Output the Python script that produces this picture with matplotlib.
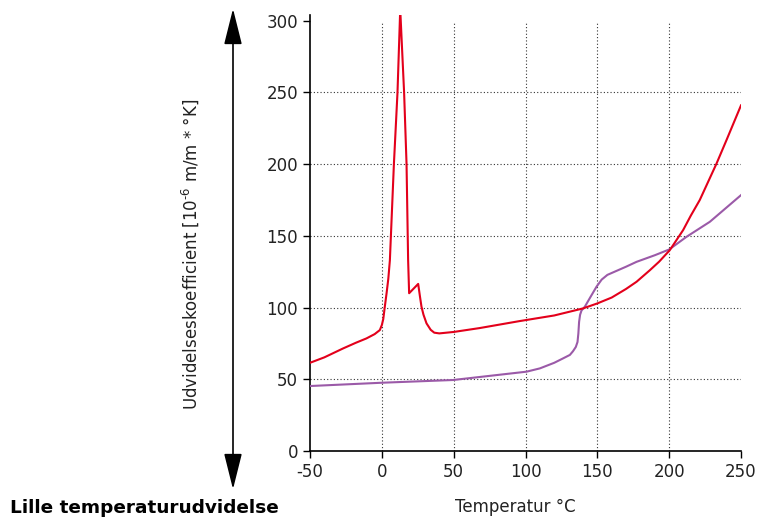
import matplotlib
matplotlib.use("Agg")
import matplotlib.pyplot as plt

# red curve (temperature, coefficient)
red_x = [-50, -40, -27, -18, -10.7, -5, -1.4, 0, 1, 2, 3.3, 4.5, 5.6, 8.4, 10.9, 12.8,
         15.5, 17.2, 18.3, 19, 25.3, 26.5, 27.6, 29, 31.1, 34, 36.5, 40, 50, 68, 96,
         120, 140, 150, 160, 170, 177.3, 186.5, 193, 200.4, 209.7, 215, 221.3, 233,
         240, 250]
red_y = [61.5, 65.3, 71.5, 75.5, 78.5, 81.5, 84.3, 87.8, 92, 100, 110, 120, 133, 200,
         250, 308, 250, 200, 133, 110, 116.5, 108, 100.6, 95, 89, 84.5, 82.5, 82, 83,
         85.7, 90.6, 94.5, 99.4, 102.9, 107, 113, 118, 126, 132, 140, 154, 164, 175,
         200.5, 217, 241]

# purple curve
purple_x = [-50, 0, 49.6, 100.7, 110, 120, 126, 130.9, 133, 135, 136.2, 136.8, 137.3,
            138, 139, 141.3, 145, 149.4, 153, 157, 162, 170, 177.3, 190, 200, 212,
            228.3, 250]
purple_y = [45.3, 47.6, 49.5, 55.3, 57.6, 61.5, 64.5, 67, 69.5, 72.5, 76, 82, 90, 95,
            98, 100.6, 107, 114.5, 119.5, 122.8, 125, 128.5, 131.9, 136.5, 140.5, 149.3,
            159.8, 178.4]

xticks = [-50, 0, 50, 100, 150, 200, 250]
yticks = [0, 50, 100, 150, 200, 250, 300]
xgrid = [0, 50, 100, 150, 200]
ygrid = [50, 100, 150, 200, 250]

plt.rcParams['font.family'] = ['DejaVu Sans']
plt.rcParams['axes.unicode_minus'] = False

W, H = 758, 518
fig = plt.figure(figsize=(W / 100, H / 100), dpi=100)
ax = fig.add_axes([310 / W, 1 - 451 / H, (741 - 310) / W, (451 - 15) / H])

ax.set_xlim(-50, 250)
ax.set_ylim(0, 304)

# dotted grid
ax.vlines(xgrid, 0, 300, colors="#333333", linestyles=(0, (1, 2)), linewidth=0.8, zorder=1)
ax.hlines(ygrid, -50, 250, colors="#333333", linestyles=(0, (1, 2)), linewidth=0.8, zorder=1)

ax.plot(purple_x, purple_y, color="#9b5aa8", linewidth=1.5, zorder=3)
ax.plot(red_x, red_y, color="#e3001b", linewidth=1.5, zorder=4)

ax.set_xticks(xticks)
ax.set_yticks(yticks)
ax.tick_params(direction="out", length=5, width=1, labelsize=12, colors="black",
               labelcolor="#222222")
for s in ["top", "right"]:
    ax.spines[s].set_visible(False)
for s in ["left", "bottom"]:
    ax.spines[s].set_linewidth(1.2)

fig.text(515 / W, 1 - 507 / H, "Temperatur °C", ha="center", va="center",
         fontsize=12, color="#222222")
fig.text(190 / W, 1 - 254 / H, "Udvidelseskoefficient [10$^{\u20106}$ m/m * °K]",
         rotation=90, ha="center", va="center", fontsize=12, color="#222222")
fig.text(10 / W, 1 - 508 / H, "Lille temperaturudvidelse", ha="left", va="center",
         fontsize=13.3, fontweight="bold", color="black")

# double headed arrow on the left
fig.add_artist(matplotlib.patches.FancyArrowPatch(
    (233 / W, 1 - 492 / H), (233 / W, 1 - 6 / H), transform=fig.transFigure,
    arrowstyle="<|-|>,head_length=1.6,head_width=0.4", mutation_scale=14,
    color="black", linewidth=1.2))

fig.savefig("out.png", dpi=100)
